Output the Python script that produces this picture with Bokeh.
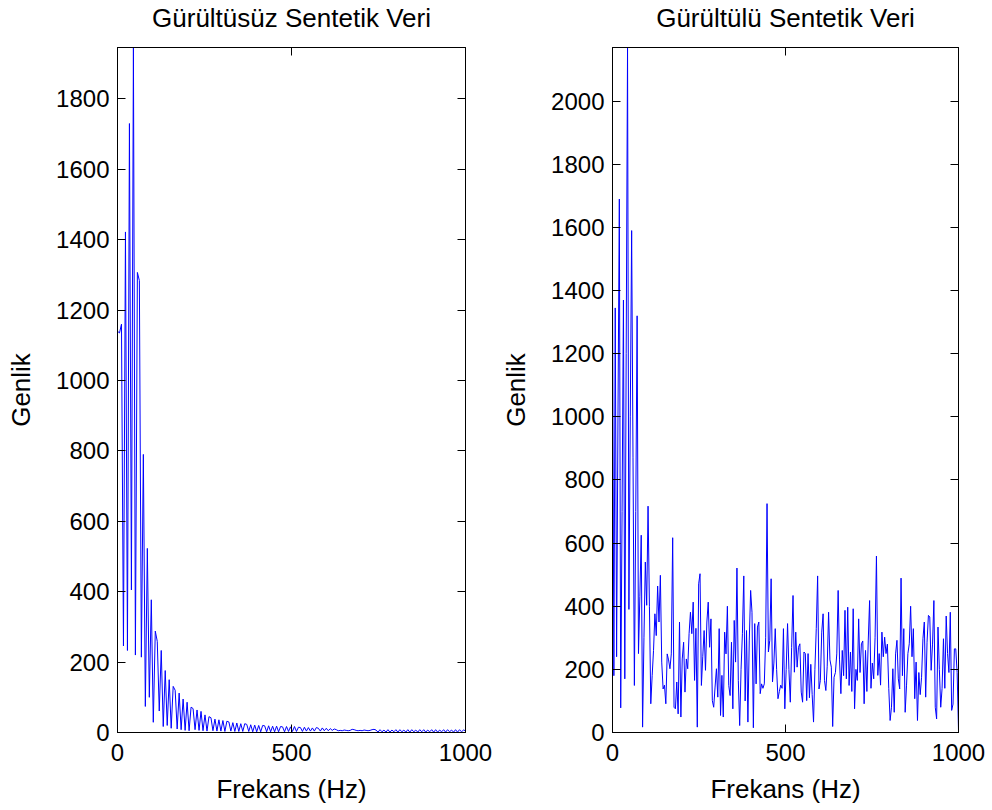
import numpy as np
from bokeh.plotting import figure
from bokeh.layouts import row
from bokeh.models import FixedTicker, LinearAxis, Range1d, Title
from bokeh.embed import file_html
from bokeh.resources import INLINE

# ---------------- data ----------------
titles = ["Gürültüsüz Sentetik Veri", "Gürültülü Sentetik Veri"]
x_label = "Frekans (Hz)"
y_label = "Genlik"
x_ticks = [0, 500, 1000]
y_ticks_left = [0, 200, 400, 600, 800, 1000, 1200, 1400, 1600, 1800]
y_ticks_right = [0, 200, 400, 600, 800, 1000, 1200, 1400, 1600, 1800, 2000]

amp_clean = [
    1140, 1135, 1160, 246, 1422, 233, 1730, 405, 1946, 220,
    1307, 1284, 214, 790, 74, 523, 100, 377, 29, 288,
    259, 61, 233, 17, 176, 20, 150, 12, 131, 120,
    10, 112, 8, 95, 6, 86, 5, 72, 68, 8,
    64, 6, 60, 5, 50, 4, 45, 42, 5, 38,
    4, 36, 4, 34, 3, 32, 30, 4, 28, 3,
    27, 3, 25, 3, 25, 23, 3, 22, 2, 21,
    2, 20, 2, 20, 19, 2, 19, 2, 18, 2,
    18, 2, 17, 16, 2, 17, 3, 16, 3, 17,
    3, 15, 14, 3, 15, 4, 14, 4, 13, 4,
    14, 12, 4, 13, 5, 12, 5, 11, 6, 10,
    8, 5, 6, 5, 7, 6, 5, 6, 9, 8,
    6, 5, 6, 5, 7, 6, 5, 6, 8, 9,
    7, 1, 8, 2, 7, 1, 8, 1, 7, 2,
    8, 1, 8, 2, 7, 1, 8, 1, 8, 2,
    7, 1, 8, 2, 8, 1, 7, 2, 8, 1,
    8, 1, 7, 2, 8, 1, 8, 2, 7, 1,
    8, 1, 8, 2, 7, 5,
]

amp_noisy = [
    1400, 180, 1345, 240, 1000, 1690, 78, 700, 1370, 170,
    1200, 2170, 390, 1000, 1590, 870, 149, 700, 1320, 250,
    430, 625, 17, 300, 540, 403, 717, 400, 91, 180,
    260, 376, 307, 464, 350, 498, 223, 138, 150, 91,
    249, 230, 202, 249, 617, 80, 75, 160, 59, 350,
    49, 233, 286, 128, 233, 202, 313, 381, 313, 413,
    165, 330, 17, 471, 503, 149, 240, 323, 197, 350,
    413, 270, 360, 101, 80, 144, 202, 112, 329, 54,
    181, 49, 318, 249, 400, 149, 117, 286, 75, 355,
    223, 521, 165, 22, 200, 313, 496, 100, 323, 33,
    290, 450, 381, 15, 345, 154, 334, 350, 123, 154,
    140, 154, 300, 725, 255, 292, 487, 160, 220, 329,
    200, 107, 130, 150, 140, 329, 75, 200, 345, 200,
    96, 270, 434, 191, 318, 207, 270, 281, 128, 96,
    255, 250, 101, 250, 110, 216, 120, 33, 200, 330,
    496, 138, 165, 318, 376, 165, 133, 210, 381, 230,
    207, 19, 175, 190, 249, 450, 230, 123, 260, 180,
    387, 170, 397, 149, 255, 130, 392, 75, 200, 165,
    360, 190, 281, 290, 91, 260, 130, 290, 418, 140,
    220, 170, 300, 559, 181, 250, 150, 318, 240, 302,
    250, 280, 140, 38, 80, 202, 64, 249, 292, 170,
    138, 489, 180, 329, 64, 150, 250, 281, 400, 240,
    329, 107, 223, 38, 190, 120, 175, 297, 350, 112,
    286, 371, 366, 197, 280, 418, 80, 43, 334, 200,
    80, 140, 297, 140, 369, 250, 190, 381, 70, 90,
    265, 265, 190, 5,
]

FONT = "Liberation Sans"
FS_TICK = "24px"
FS_LABEL = "26px"


def hidden_axis(ticker, tick_in, tick_out, show_lines):
    col = "black" if show_lines else None
    return LinearAxis(ticker=ticker, major_label_text_font_size="1px",
                      major_label_text_color=None,
                      major_tick_in=tick_in, major_tick_out=tick_out,
                      major_label_standoff=0,
                      minor_tick_line_color=None,
                      axis_line_color=col, major_tick_line_color=col)


def make_panel(title, amp, yticks, border_left, frame_w, border_right):
    freq = np.linspace(0, 1000, len(amp))
    p = figure(
        frame_width=frame_w, frame_height=685,
        min_border_left=border_left, min_border_right=border_right,
        min_border_top=47, min_border_bottom=78,
        x_range=Range1d(0, 1000), y_range=Range1d(0, max(amp)),
        output_backend="svg", toolbar_location=None,
    )

    p.line(freq, amp, line_color="#0000ff", line_width=1)

    p.xgrid.visible = False
    p.ygrid.visible = False
    p.outline_line_color = "black"
    p.outline_line_width = 1
    p.outline_line_alpha = 1
    p.background_fill_color = "white"
    p.border_fill_color = "white"

    xt = FixedTicker(ticks=x_ticks)
    yt = FixedTicker(ticks=yticks)
    for ax in p.xaxis:
        ax.ticker = xt
        ax.axis_label = x_label
    for ax in p.yaxis:
        ax.ticker = yt
        ax.axis_label = y_label
    for ax in list(p.xaxis) + list(p.yaxis):
        ax.axis_label_text_font = FONT
        ax.axis_label_text_font_size = FS_LABEL
        ax.axis_label_text_font_style = "normal"
        ax.axis_label_text_color = "black"
        ax.major_label_text_font = FONT
        ax.major_label_text_font_size = FS_TICK
        ax.major_label_text_color = "black"
        ax.major_tick_in = 8
        ax.major_tick_out = 0
        ax.minor_tick_line_color = None
        ax.axis_line_color = "black"
        ax.major_tick_line_color = "black"
    p.yaxis.axis_label_standoff = 17
    p.xaxis.axis_label_standoff = 10
    p.yaxis.major_label_standoff = 8
    p.xaxis.major_label_standoff = 11

    # above stack, from the frame outward: mirrored ticks, spacer, title
    p.add_layout(hidden_axis(xt, 8, 0, True), "above")
    p.add_layout(hidden_axis(xt, 0, 15, False), "above")
    p.add_layout(Title(text=title, text_font=FONT, text_font_size=FS_LABEL,
                       text_font_style="normal", text_color="black",
                       align="center", standoff=0), "above")
    # mirrored ticks on the right edge
    p.add_layout(hidden_axis(yt, 8, 0, True), "right")
    return p


p1 = make_panel(titles[0], amp_clean, y_ticks_left, 117, 348, 31)
p2 = make_panel(titles[1], amp_noisy, y_ticks_right, 116, 346, 34)
layout = row(p1, p2)

open("out.html", "w").write(file_html(layout, INLINE))
